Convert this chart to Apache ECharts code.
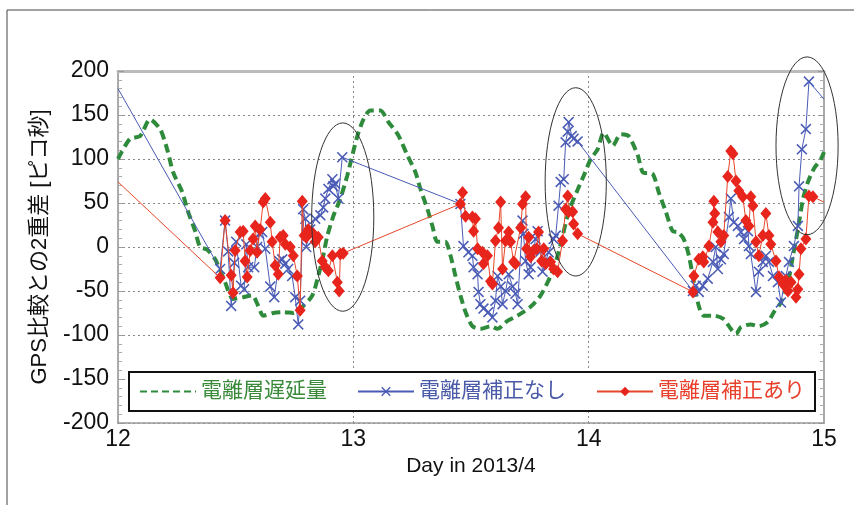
<!DOCTYPE html>
<html><head><meta charset="utf-8">
<script src="https://cdn.jsdelivr.net/npm/echarts@6/dist/echarts.min.js"></script>
<style>html,body{margin:0;padding:0;background:#fff}#c{width:854px;height:505px}</style>
</head><body><div id="c"></div>
<script>
const FONT = "'Liberation Sans', Arial, 'Noto Sans CJK JP', sans-serif";
const seriesNames = ['電離層遅延量', '電離層補正なし', '電離層補正あり'];
const xAxisName = 'Day in 2013/4';
const yAxisName = 'GPS比較との2重差 [ピコ秒]';

// 電離層遅延量 (green dashed)
const delayData = [
[12.000,100],[12.051,123],[12.094,126],[12.136,145],[12.179,134],[12.209,111],[12.234,85],[12.272,63],[12.298,40],[12.328,18],
[12.349,0],[12.379,-3],[12.413,-14],[12.455,-40],[12.489,-59],[12.532,-57],[12.570,-55],[12.596,-67],[12.617,-78],[12.660,-75],
[12.702,-74],[12.745,-75],[12.787,-67],[12.826,-55],[12.851,-33],[12.872,-10],[12.889,12],[12.915,35],[12.945,55],[12.974,81],
[12.992,100],[13.017,126],[13.043,145],[13.072,155],[13.115,155],[13.149,142],[13.191,127],[13.230,104],[13.264,85],[13.285,66],
[13.315,43],[13.336,24],[13.357,6],[13.391,6],[13.413,-10],[13.434,-33],[13.455,-55],[13.477,-74],[13.506,-90],[13.540,-93],
[13.583,-90],[13.613,-93],[13.655,-84],[13.698,-78],[13.753,-68],[13.796,-55],[13.838,-33],[13.868,-10],[13.889,12],[13.915,40],
[13.953,65],[13.979,81],[14.009,100],[14.038,111],[14.064,130],[14.102,115],[14.136,128],[14.170,126],[14.209,104],[14.230,85],
[14.272,83],[14.298,62],[14.328,40],[14.357,18],[14.379,17],[14.404,9],[14.426,-10],[14.447,-40],[14.468,-67],[14.489,-78],
[14.532,-78],[14.574,-82],[14.604,-93],[14.626,-99],[14.647,-91],[14.689,-88],[14.723,-90],[14.762,-85],[14.787,-74],[14.817,-63],
[14.847,-40],[14.868,-10],[14.889,20],[14.911,55],[14.932,74],[14.957,89],[14.987,100],[15.000,108]
];

// 電離層補正なし (blue, x markers)
const rawData = [
[12.000,180],
[12.434,-25],[12.455,30],[12.468,-5],[12.481,-67],[12.494,-18],[12.502,6],[12.523,-44],[12.536,-48],[12.545,3],[12.553,-23],
[12.579,-23],[12.591,0],[12.600,15],[12.613,17],[12.626,-2],[12.647,-45],[12.664,-57],[12.685,-16],[12.698,-14],[12.711,-19],
[12.723,-25],[12.740,-33],[12.753,-57],[12.766,-88],[12.774,-61],[12.787,43],[12.796,32],[12.800,0],[12.817,20],[12.838,32],
[12.860,36],[12.872,45],[12.881,55],[12.894,66],[12.911,77],[12.915,69],[12.923,72],[12.936,55],[12.953,102],
[13.455,49],[13.468,1],[13.489,-6],[13.506,-10],[13.511,-23],[13.528,-31],[13.532,-51],[13.540,-65],[13.553,-70],[13.574,-74],
[13.591,-80],[13.604,-61],[13.613,-33],[13.626,-45],[13.634,-65],[13.647,-50],[13.660,-31],[13.677,-45],[13.689,-53],[13.698,-65],
[13.719,30],[13.723,15],[13.732,-16],[13.745,-31],[13.753,-23],[13.774,9],[13.783,18],[13.796,-5],[13.804,-28],[13.817,-16],
[13.830,-6],[13.851,9],[13.860,13],[13.872,47],[13.881,74],[13.894,77],[13.902,119],[13.911,131],[13.915,142],[13.928,126],
[13.936,123],[13.953,120],
[14.443,-50],[14.455,-44],[14.468,-51],[14.485,-44],[14.506,-36],[14.528,-17],[14.540,0],[14.549,-25],[14.562,-14],[14.574,-8],
[14.596,34],[14.604,55],[14.617,28],[14.634,24],[14.647,17],[14.660,9],[14.677,18],[14.681,1],[14.689,-8],[14.711,-51],
[14.723,-28],[14.740,-17],[14.753,-10],[14.766,-17],[14.783,-33],[14.804,-40],[14.817,-63],[14.838,-33],[14.851,-17],[14.872,1],
[14.889,24],[14.894,69],[14.906,111],[14.923,134],[14.936,188],[15.000,168]
];

// 電離層補正あり (red, diamonds)
const corrData = [
[12.000,74],
[12.434,-35],[12.455,30],[12.481,-32],[12.489,-52],[12.498,-4],[12.519,17],[12.532,18],[12.540,-16],[12.549,-34],[12.562,-4],
[12.574,9],[12.583,24],[12.591,-6],[12.604,20],[12.617,51],[12.626,55],[12.647,28],[12.655,6],[12.668,-21],[12.681,-31],
[12.689,11],[12.702,13],[12.711,3],[12.732,0],[12.745,-10],[12.762,-33],[12.774,-72],[12.783,52],[12.791,13],[12.800,11],
[12.809,20],[12.830,15],[12.838,6],[12.851,11],[12.868,-16],[12.881,-23],[12.894,-27],[12.911,-10],[12.932,-40],[12.940,-50],
[12.945,-8],[12.957,-7],
[13.455,49],[13.464,62],[13.477,35],[13.506,34],[13.511,18],[13.519,32],[13.528,-2],[13.549,-6],[13.553,-19],[13.570,-10],
[13.583,-39],[13.591,-42],[13.604,7],[13.617,22],[13.626,51],[13.634,-25],[13.647,7],[13.660,17],[13.668,6],[13.681,-17],
[13.689,-19],[13.711,22],[13.719,49],[13.732,57],[13.736,-2],[13.745,11],[13.753,-11],[13.766,-4],[13.779,-2],[13.787,17],
[13.800,-16],[13.809,-2],[13.817,-19],[13.838,-17],[13.851,-25],[13.868,-28],[13.889,7],[13.902,43],[13.911,58],[13.915,40],
[13.932,40],[13.936,26],[13.953,15],
[14.443,-51],[14.447,-33],[14.468,-14],[14.485,-11],[14.489,-17],[14.511,1],[14.528,28],[14.532,52],[14.536,38],[14.549,17],
[14.562,6],[14.574,13],[14.591,80],[14.604,109],[14.613,106],[14.626,75],[14.638,64],[14.655,57],[14.668,30],[14.681,24],
[14.689,57],[14.698,47],[14.711,6],[14.723,-10],[14.740,13],[14.753,38],[14.766,13],[14.774,3],[14.796,-16],[14.809,-34],
[14.826,-42],[14.838,-38],[14.847,-50],[14.860,-40],[14.881,-57],[14.889,-48],[14.894,-31],[14.902,-2],[14.923,9],[14.936,58],
[14.953,57],[15.000,51]
];

// annotation ellipses: [centerDay, centerValue, halfWidthDays, halfHeightValue]
const ellipseNotes = [[12.955,34,0.132,107],[13.945,74,0.13,107],[14.928,115,0.132,101]];

const xMin = 12, xMax = 15, xStep = 1;
const yMin = -200, yMax = 200, yStep = 50;

const GREEN = '#2f8b3c', BLUE = '#4a5bb6', RED = '#e8251c', RED_LINE = '#e8482a';
const XSYM = 'path://M0,1L1,0L5,4L9,0L10,1L6,5L10,9L9,10L5,6L1,10L0,9L4,5Z';

function toItems(arr){
  return arr.map(p => (p[0] === xMin || p[0] === xMax) ? {value: p, symbol: 'none'} : {value: p});
}

const chart = echarts.init(document.getElementById('c'), null, {renderer: 'canvas'});
const yAxisBase = {
  type: 'value', min: yMin, max: yMax, interval: yStep,
  axisLine: {show: true, onZero: false, lineStyle: {color: '#aaa', width: 2}},
  axisTick: {show: true, inside: true, length: 6, lineStyle: {color: '#999'}},
  minorTick: {show: true, splitNumber: 5, length: 4, lineStyle: {color: '#aaa'}},
};
chart.setOption({
  animation: false,
  backgroundColor: '#fff',
  textStyle: {fontFamily: FONT},
  grid: {left: 118, right: 30, top: 71, bottom: 82},
  xAxis: [{
    type: 'value', min: xMin, max: xMax, interval: xStep,
    axisLine: {show: true, onZero: false, lineStyle: {color: '#999', width: 1.5}},
    axisTick: {show: false},
    axisLabel: {fontSize: 23, color: '#111', margin: 5, fontFamily: FONT},
    splitLine: {show: true, lineStyle: {color: '#888', width: 1, type: [2, 3]}},
    name: xAxisName, nameLocation: 'middle', nameGap: 30,
    nameTextStyle: {fontSize: 21, color: '#111', fontFamily: FONT}
  }, {
    type: 'value', min: xMin, max: xMax, interval: xStep, position: 'top',
    axisLine: {show: true, onZero: false, lineStyle: {color: '#bbb', width: 3}},
    axisTick: {show: false}, axisLabel: {show: false}, splitLine: {show: false}
  }],
  yAxis: [Object.assign({}, yAxisBase, {
    position: 'left',
    axisLabel: {fontSize: 23, color: '#111', margin: 9, fontFamily: FONT},
    splitLine: {show: true, lineStyle: {color: '#888', width: 1, type: [2, 3]}},
    name: yAxisName, nameLocation: 'middle', nameGap: 67,
    nameTextStyle: {fontSize: 22, color: '#111', fontFamily: FONT}
  }), Object.assign({}, yAxisBase, {
    position: 'right',
    axisLabel: {show: false}, splitLine: {show: false}
  })],
  legend: {
    left: 129, top: 372, orient: 'horizontal',
    itemWidth: 56, itemHeight: 12, itemGap: 30,
    padding: [9, 10], borderColor: '#111', borderWidth: 2, backgroundColor: '#fff',
    selectedMode: false,
    textStyle: {fontSize: 21, fontFamily: FONT},
    data: [
      {name: seriesNames[0], textStyle: {color: '#3a8a3a'}, itemStyle: {opacity: 0}, lineStyle: {type: [7, 4]}},
      {name: seriesNames[1], textStyle: {color: '#4a5aa8'}},
      {name: seriesNames[2], textStyle: {color: '#e8402c'}}
    ]
  },
  series: [{
    name: seriesNames[0], type: 'line', data: delayData, symbol: 'none',
    smooth: 0.25, lineStyle: {color: GREEN, width: 4, type: [9, 5]}, itemStyle: {color: GREEN},
    z: 2, emphasis: {disabled: true}
  }, {
    name: seriesNames[1], type: 'line', data: toItems(rawData), symbol: XSYM, symbolSize: 11,
    lineStyle: {color: BLUE, width: 1}, itemStyle: {color: BLUE}, z: 3, emphasis: {disabled: true}
  }, {
    name: seriesNames[2], type: 'line', data: toItems(corrData), symbol: 'diamond', symbolSize: [11, 13],
    lineStyle: {color: RED_LINE, width: 1}, itemStyle: {color: RED}, z: 4, emphasis: {disabled: true}
  }]
});

const graphics = [
  {type: 'line', shape: {x1: 7, y1: 10, x2: 854, y2: 10}, style: {stroke: '#444', lineWidth: 1}, z: 10},
  {type: 'line', shape: {x1: 7, y1: 10, x2: 7, y2: 505}, style: {stroke: '#444', lineWidth: 1}, z: 10}
];
ellipseNotes.forEach(e => {
  const c = chart.convertToPixel({gridIndex: 0}, [e[0], e[1]]);
  const edge = chart.convertToPixel({gridIndex: 0}, [e[0] + e[2], e[1] + e[3]]);
  graphics.push({
    type: 'ellipse',
    shape: {cx: c[0], cy: c[1], rx: Math.abs(edge[0] - c[0]), ry: Math.abs(edge[1] - c[1])},
    style: {fill: 'none', stroke: '#333', lineWidth: 1}, z: 10
  });
});
chart.setOption({graphic: graphics});
</script></body></html>
